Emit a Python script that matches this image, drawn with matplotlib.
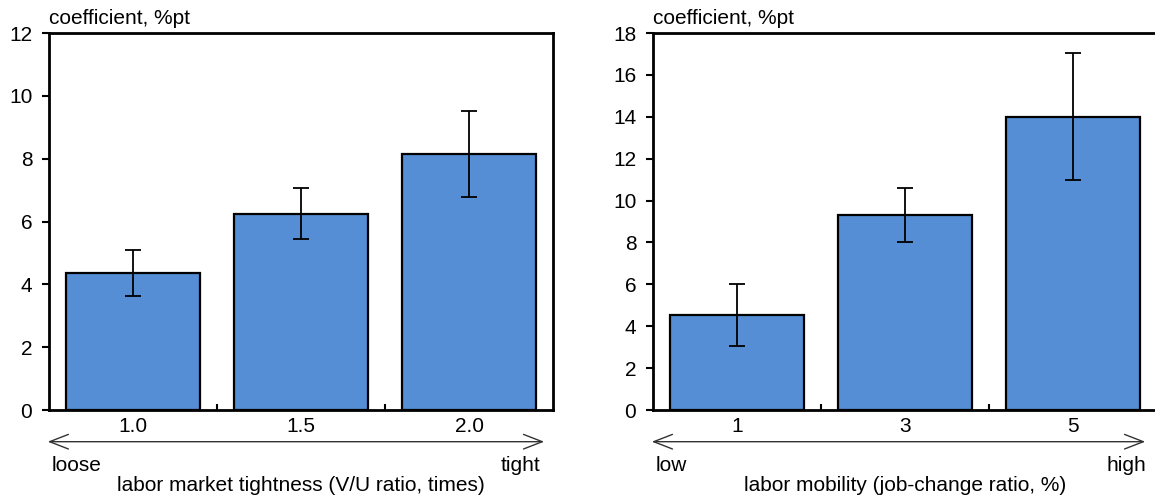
import matplotlib
matplotlib.use('Agg')
import matplotlib.pyplot as plt
from matplotlib.ticker import FixedLocator

plt.rcParams['font.family'] = ['Liberation Sans', 'DejaVu Sans']
plt.rcParams['font.size'] = 15

# left panel: labor market tightness
tight_labels = ['1.0', '1.5', '2.0']
tight_coef = [4.35, 6.25, 8.15]
tight_upper = [5.08, 7.06, 9.52]
tight_lower = [3.64, 5.45, 6.78]

# right panel: labor mobility
mob_labels = ['1', '3', '5']
mob_coef = [4.55, 9.3, 14.0]
mob_upper = [6.0, 10.58, 17.05]
mob_lower = [3.08, 8.02, 10.98]

bar_color = '#558ED5'


def draw_panel(ax, labels, coef, upper, lower, ymax, ystep, lo_txt, hi_txt, xlabel,
               arrow_end, hi_x):
    x = list(range(len(labels)))
    err = [[c - l for c, l in zip(coef, lower)], [u - c for c, u in zip(coef, upper)]]
    ax.bar(x, coef, width=0.8, color=bar_color, edgecolor='black', linewidth=1.6,
           yerr=err, capsize=6, error_kw={'elinewidth': 1.3, 'capthick': 1.3, 'ecolor': 'black'})
    ax.set_xlim(-0.5, len(labels) - 0.5)
    ax.set_ylim(0, ymax)
    ax.set_yticks(range(0, ymax + 1, ystep))
    ax.set_xticks(x)
    ax.set_xticklabels(labels)
    ax.xaxis.set_minor_locator(FixedLocator([i + 0.5 for i in range(len(labels) - 1)]))
    ax.tick_params(axis='x', which='major', length=0, pad=5)
    ax.tick_params(axis='x', which='minor', direction='in', length=4, width=1.5)
    ax.tick_params(axis='y', direction='out', length=5, width=1.5, pad=7)
    for s in ax.spines.values():
        s.set_linewidth(2)
    ax.text(0.0, 1.012, 'coefficient, %pt', transform=ax.transAxes,
            ha='left', va='bottom')
    ax.annotate('', xy=(-0.008, -0.084), xytext=(arrow_end, -0.084), xycoords='axes fraction',
                textcoords='axes fraction', annotation_clip=False,
                arrowprops=dict(arrowstyle='<->,head_length=0.9,head_width=0.35',
                                color='#333333', lw=1.0))
    ax.text(0.006, -0.146, lo_txt, transform=ax.transAxes, ha='left', va='center')
    ax.text(hi_x, -0.146, hi_txt, transform=ax.transAxes, ha='right', va='center')
    ax.text(0.5, -0.2, xlabel, transform=ax.transAxes, ha='center', va='center')


fig = plt.figure(figsize=(11.55, 4.97), dpi=100)
ax1 = fig.add_axes([0.0424, 0.175, 0.4364, 0.7586])
ax2 = fig.add_axes([0.5654, 0.175, 0.4364, 0.7586])

draw_panel(ax1, tight_labels, tight_coef, tight_upper, tight_lower, 12, 2,
           'loose', 'tight', 'labor market tightness (V/U ratio, times)', 0.988, 0.975)
draw_panel(ax2, mob_labels, mob_coef, mob_upper, mob_lower, 18, 2,
           'low', 'high', 'labor mobility (job-change ratio, %)', 0.982, 0.978)

fig.savefig('out.png', dpi=100)
